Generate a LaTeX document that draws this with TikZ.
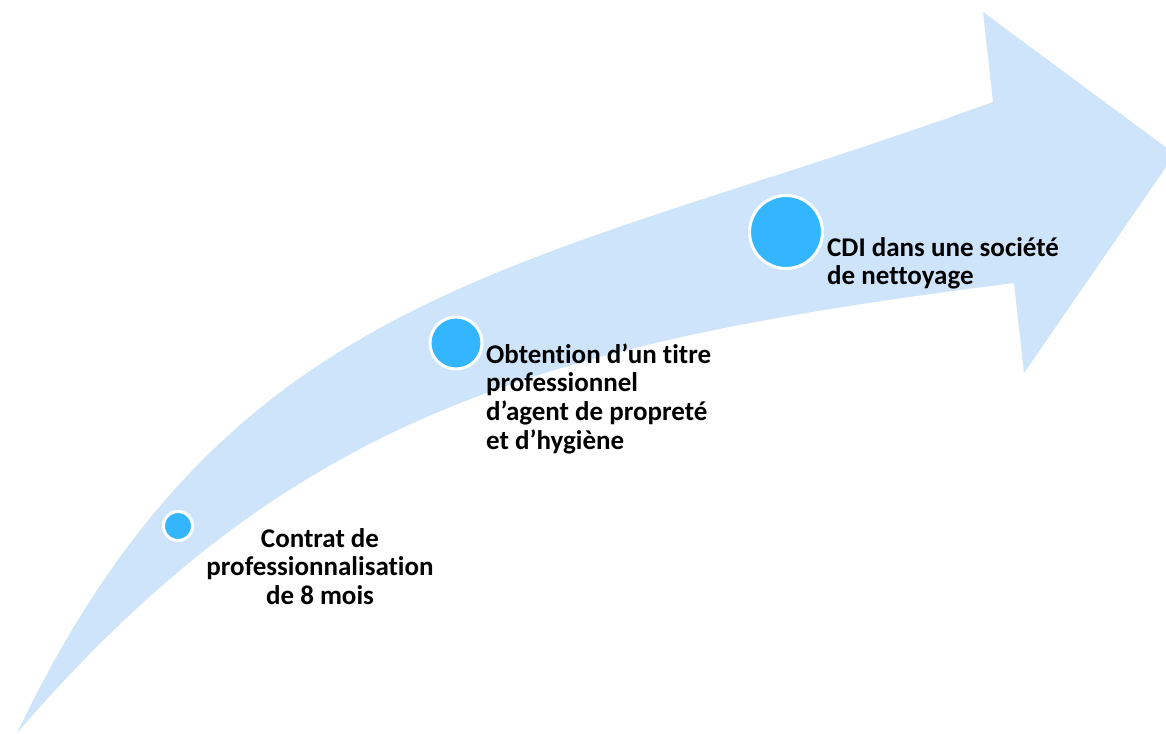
\documentclass[tikz,border=0pt]{standalone}
\usepackage{fontspec}
\setmainfont{Carlito}[Ligatures={NoCommon,NoContextual}]
\definecolor{arrowblue}{HTML}{CEE4FB}
\definecolor{dotblue}{HTML}{33B6FF}
\begin{document}
\begin{tikzpicture}[x=1bp,y=-1bp]

\tikzstyle{dot}=[circle, draw=white, line width=3bp, fill=dotblue, inner sep=0pt]
\tikzstyle{steptext}=[inner sep=0pt, font=\fontsize{27bp}{28.8bp}\selectfont\bfseries]

\useasboundingbox (0,0) rectangle (1166,734);
\clip (0,0) rectangle (1166,734);

\fill[arrowblue] (17,733) .. controls (232,283) and (523,272) .. (993,102)
  -- (983,12) -- (1175,154) -- (1024,373) -- (1014,283)
  .. controls (538,343) and (292,415) .. (17,733) -- cycle;

\node[dot, minimum size=29bp] (contrat) at (178,526) {};
\node[dot, minimum size=52bp] (titre) at (456,343) {};
\node[dot, minimum size=73bp] (cdi) at (786,232) {};

\node[steptext, align=center, anchor=base] (contrattext) at (320,604.6) {Contrat de\\professionnalisation\\de 8 mois};
\node[steptext, align=left, anchor=base west] (titretext) at (486,449.4) {Obtention d’un titre\\professionnel\\d’agent de propreté\\et d’hygiène};
\node[steptext, align=left, anchor=base west] (cditext) at (827,284.8) {CDI dans une société\\de nettoyage};
\end{tikzpicture}
\end{document}
